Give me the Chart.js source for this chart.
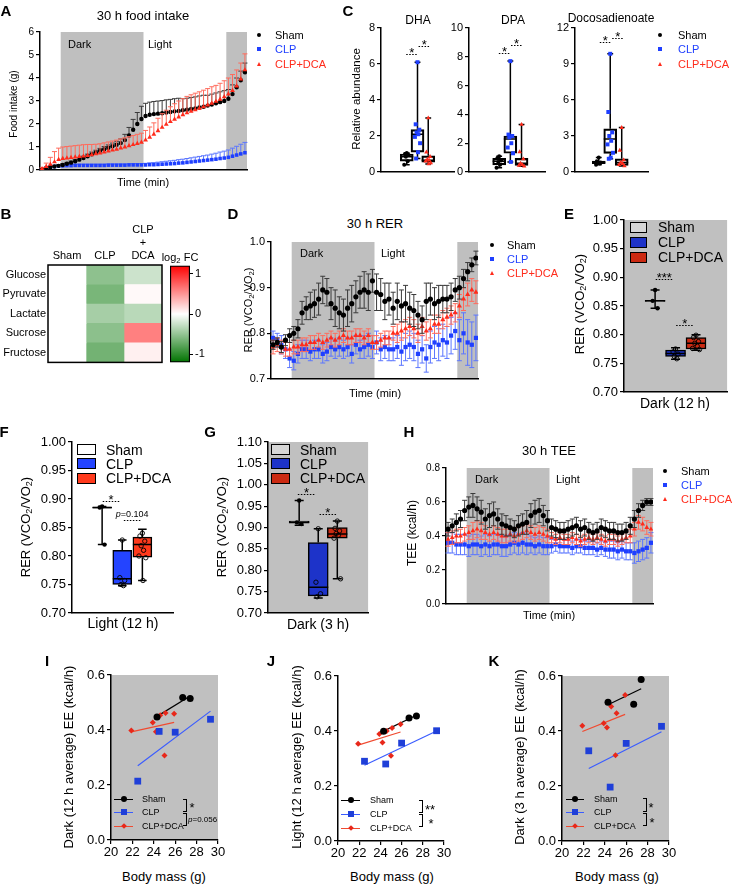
<!DOCTYPE html>
<html>
<head>
<meta charset="utf-8">
<script src="https://cdn.jsdelivr.net/npm/chart.js@4.4.0/dist/chart.umd.min.js"></script>
<style>
  html, body { margin: 0; padding: 0; background: #fff; }
  body { position: relative; width: 734px; height: 885px; overflow: hidden; font-family: 'Liberation Sans', Arial, sans-serif; color: #000; }
  .cv { position: absolute; }
  .t { position: absolute; white-space: nowrap; line-height: 1; }
  .t sub { font-size: 0.7em; vertical-align: -0.3em; line-height: 0; }
  .mk { position: absolute; box-sizing: border-box; }
</style>
</head>
<body>
<script>
const groups = ['Sham', 'CLP', 'CLP+DCA'];
const groupColors = ['#000000', '#1f3fff', '#ff2b1b'];
const semColors = ['#3a3a3a', '#5b76ff', '#ff6b5c'];
const groupMarkers = ['circle', 'rect', 'triangle'];

// 30 h recordings, one mean every 36 min
const timeMin = Array.from({ length: 50 }, (_, i) => 18 + 36 * i);
const darkPeriods = [[180, 900], [1620, 1800]];

// A: cumulative food intake (g), mean and SEM
const foodSham = [0.03,0.08,0.12,0.15,0.18,0.22,0.27,0.32,0.38,0.45,0.52,0.60,0.68,0.76,0.84,0.90,0.97,1.03,1.10,1.17,1.30,1.50,1.75,2.00,2.22,2.35,2.40,2.43,2.45,2.47,2.50,2.52,2.55,2.57,2.60,2.62,2.65,2.68,2.72,2.75,2.80,2.85,2.90,2.95,3.00,3.10,3.30,3.60,3.90,4.25];
const foodShamSem = [0.02,0.03,0.04,0.05,0.05,0.06,0.06,0.07,0.07,0.08,0.08,0.09,0.10,0.10,0.10,0.12,0.12,0.14,0.15,0.18,0.25,0.35,0.45,0.50,0.55,0.55,0.55,0.55,0.55,0.55,0.55,0.55,0.55,0.55,0.50,0.50,0.50,0.50,0.50,0.50,0.45,0.45,0.45,0.45,0.45,0.40,0.40,0.40,0.40,0.40];
const foodClp = [0.03,0.08,0.12,0.15,0.17,0.18,0.19,0.19,0.20,0.20,0.20,0.20,0.20,0.20,0.20,0.20,0.21,0.21,0.21,0.21,0.21,0.22,0.22,0.22,0.22,0.22,0.23,0.23,0.24,0.25,0.26,0.27,0.28,0.30,0.31,0.33,0.35,0.37,0.39,0.41,0.43,0.45,0.47,0.50,0.52,0.55,0.60,0.65,0.70,0.75];
const foodClpSem = [0.02,0.04,0.05,0.05,0.05,0.05,0.05,0.05,0.05,0.05,0.05,0.05,0.05,0.05,0.05,0.05,0.05,0.05,0.05,0.05,0.05,0.05,0.06,0.06,0.06,0.07,0.08,0.09,0.10,0.11,0.12,0.13,0.14,0.15,0.16,0.17,0.18,0.19,0.20,0.21,0.22,0.24,0.26,0.28,0.30,0.32,0.35,0.38,0.42,0.45];
const foodDca = [0.05,0.15,0.25,0.35,0.45,0.50,0.52,0.54,0.56,0.58,0.60,0.63,0.66,0.70,0.74,0.78,0.82,0.86,0.90,0.95,1.00,1.05,1.10,1.15,1.20,1.30,1.42,1.55,1.70,1.85,1.98,2.10,2.20,2.30,2.40,2.48,2.55,2.62,2.68,2.75,2.82,2.90,2.98,3.07,3.18,3.30,3.45,3.65,3.95,4.35];
const foodDcaSem = [0.05,0.15,0.30,0.45,0.50,0.50,0.50,0.50,0.50,0.50,0.50,0.48,0.45,0.42,0.40,0.40,0.40,0.40,0.40,0.40,0.40,0.40,0.40,0.40,0.40,0.42,0.45,0.50,0.55,0.60,0.62,0.65,0.68,0.70,0.70,0.72,0.72,0.72,0.72,0.72,0.72,0.72,0.70,0.70,0.70,0.70,0.70,0.70,0.70,0.70];

// D: respiratory exchange ratio
const rerSham = [0.775,0.780,0.770,0.785,0.795,0.800,0.810,0.845,0.855,0.860,0.865,0.875,0.895,0.890,0.865,0.855,0.845,0.840,0.855,0.865,0.880,0.890,0.895,0.890,0.915,0.890,0.885,0.870,0.875,0.855,0.870,0.860,0.865,0.855,0.850,0.840,0.830,0.870,0.875,0.865,0.870,0.875,0.875,0.880,0.895,0.900,0.920,0.935,0.950,0.965];
const rerShamSem = [0.010,0.010,0.012,0.012,0.015,0.015,0.020,0.025,0.025,0.030,0.030,0.035,0.030,0.030,0.035,0.040,0.035,0.035,0.040,0.040,0.035,0.035,0.040,0.040,0.025,0.040,0.035,0.040,0.035,0.035,0.040,0.035,0.040,0.035,0.035,0.030,0.030,0.040,0.035,0.035,0.035,0.030,0.030,0.030,0.025,0.025,0.020,0.020,0.015,0.015];
const rerClp = [0.790,0.785,0.775,0.765,0.745,0.740,0.755,0.765,0.765,0.760,0.765,0.765,0.755,0.760,0.770,0.765,0.770,0.765,0.770,0.755,0.775,0.765,0.770,0.775,0.770,0.780,0.765,0.770,0.765,0.765,0.770,0.760,0.770,0.775,0.770,0.755,0.765,0.745,0.770,0.780,0.775,0.785,0.780,0.795,0.805,0.785,0.800,0.780,0.775,0.790];
const rerClpSem = [0.015,0.015,0.020,0.020,0.020,0.020,0.020,0.020,0.020,0.020,0.020,0.020,0.020,0.020,0.020,0.020,0.020,0.020,0.020,0.020,0.020,0.020,0.025,0.025,0.025,0.025,0.025,0.025,0.025,0.025,0.025,0.030,0.030,0.030,0.030,0.030,0.030,0.030,0.035,0.035,0.035,0.035,0.035,0.040,0.040,0.045,0.045,0.050,0.050,0.050];
const rerDca = [0.770,0.775,0.770,0.765,0.765,0.770,0.770,0.775,0.775,0.780,0.780,0.785,0.780,0.785,0.790,0.785,0.790,0.795,0.790,0.790,0.795,0.795,0.790,0.795,0.780,0.780,0.785,0.790,0.790,0.800,0.800,0.805,0.810,0.815,0.810,0.800,0.815,0.805,0.810,0.820,0.820,0.830,0.835,0.840,0.845,0.860,0.875,0.885,0.895,0.890];
const rerDcaSem = [0.015,0.015,0.015,0.015,0.015,0.015,0.015,0.015,0.015,0.015,0.015,0.015,0.015,0.015,0.015,0.015,0.015,0.015,0.015,0.015,0.015,0.015,0.015,0.015,0.015,0.015,0.015,0.015,0.015,0.015,0.020,0.020,0.020,0.020,0.020,0.020,0.020,0.020,0.020,0.020,0.020,0.020,0.020,0.020,0.020,0.025,0.025,0.025,0.025,0.025];

// H: total energy expenditure (kcal/h)
const teeSham = [0.44,0.46,0.48,0.50,0.55,0.57,0.58,0.56,0.54,0.50,0.52,0.53,0.50,0.47,0.46,0.45,0.44,0.46,0.47,0.48,0.52,0.54,0.55,0.52,0.49,0.45,0.44,0.43,0.43,0.44,0.45,0.46,0.44,0.45,0.43,0.42,0.43,0.45,0.44,0.43,0.43,0.42,0.42,0.43,0.46,0.50,0.55,0.58,0.60,0.60];
const teeShamSem = [0.04,0.04,0.05,0.05,0.06,0.06,0.07,0.07,0.07,0.06,0.07,0.07,0.06,0.06,0.06,0.05,0.05,0.06,0.06,0.07,0.07,0.07,0.07,0.06,0.06,0.05,0.05,0.05,0.05,0.05,0.05,0.05,0.05,0.05,0.05,0.05,0.05,0.05,0.05,0.05,0.05,0.05,0.05,0.05,0.05,0.05,0.04,0.03,0.02,0.02];
const teeClp = [0.36,0.36,0.35,0.35,0.35,0.34,0.35,0.35,0.34,0.35,0.34,0.35,0.35,0.34,0.34,0.35,0.36,0.35,0.36,0.35,0.35,0.34,0.35,0.34,0.34,0.34,0.35,0.34,0.34,0.34,0.33,0.34,0.34,0.33,0.33,0.33,0.32,0.33,0.32,0.32,0.32,0.31,0.32,0.31,0.31,0.30,0.31,0.32,0.33,0.36];
const teeClpSem = [0.06,0.06,0.06,0.06,0.06,0.06,0.06,0.06,0.06,0.06,0.06,0.06,0.06,0.06,0.06,0.06,0.06,0.06,0.06,0.06,0.05,0.05,0.05,0.05,0.05,0.04,0.04,0.04,0.04,0.04,0.04,0.04,0.04,0.04,0.04,0.04,0.04,0.04,0.04,0.05,0.05,0.05,0.05,0.05,0.05,0.06,0.06,0.06,0.06,0.06];
const teeDca = [0.38,0.39,0.40,0.40,0.41,0.42,0.43,0.44,0.43,0.42,0.41,0.42,0.41,0.40,0.40,0.41,0.40,0.41,0.42,0.43,0.42,0.41,0.42,0.41,0.40,0.39,0.38,0.39,0.38,0.38,0.39,0.38,0.37,0.38,0.39,0.38,0.39,0.38,0.37,0.38,0.38,0.37,0.38,0.39,0.40,0.44,0.48,0.47,0.45,0.44];
const teeDcaSem = [0.04,0.04,0.04,0.04,0.04,0.04,0.05,0.05,0.05,0.04,0.04,0.04,0.04,0.04,0.04,0.04,0.04,0.04,0.04,0.04,0.04,0.04,0.04,0.04,0.04,0.03,0.03,0.03,0.03,0.03,0.03,0.03,0.03,0.03,0.03,0.03,0.03,0.03,0.03,0.03,0.03,0.03,0.03,0.03,0.04,0.04,0.04,0.04,0.04,0.04];

// B: log2 fold change vs sham
const metabolites = ['Glucose', 'Pyruvate', 'Lactate', 'Sucrose', 'Fructose'];
const heatColumns = ['Sham', 'CLP', ['CLP', '+', 'DCA']];
const fcSham = [0, 0, 0, 0, 0];
const fcClp = [-0.53, -0.63, -0.42, -0.54, -0.66];
const fcDca = [-0.24, 0.03, -0.33, 0.60, 0.07];
const fcMin = -1.2;
const fcMax = 1.2;
const fcTicks = [-1, 0, 1];

// C: relative abundance, box stats [min, q1, median, q3, max] and points
const dhaStats = [[0.40, 0.60, 0.85, 1.00, 1.05], [0.75, 1.10, 2.10, 2.35, 6.10], [0.45, 0.55, 0.65, 0.90, 3.00]];
const dhaPoints = [[1.05, 1.00, 0.95, 0.85, 0.60, 0.40], [6.10, 2.65, 2.35, 2.20, 2.10, 1.95, 1.60, 1.10, 0.75], [3.00, 1.10, 0.85, 0.70, 0.65, 0.60, 0.50, 0.45]];
const dpaStats = [[0.30, 0.50, 0.75, 0.95, 1.10], [0.70, 1.30, 2.30, 2.50, 7.70], [0.40, 0.45, 0.60, 0.95, 3.30]];
const dpaPoints = [[1.10, 0.95, 0.80, 0.70, 0.50, 0.30], [7.70, 2.60, 2.50, 2.40, 2.00, 1.70, 1.30, 0.70], [3.30, 1.40, 0.90, 0.60, 0.50, 0.45, 0.40]];
const docoStats = [[0.60, 0.70, 0.80, 0.90, 1.20], [1.10, 1.55, 2.75, 3.60, 9.85], [0.50, 0.55, 0.80, 1.10, 3.70]];
const docoPoints = [[1.20, 0.90, 0.80, 0.75, 0.70, 0.60], [9.85, 5.00, 3.30, 3.00, 2.60, 2.30, 1.60, 1.20, 1.10], [3.70, 1.80, 1.00, 0.80, 0.70, 0.60, 0.50]];

// E, F, G: RER box stats and points
const rerDark12Stats = [[0.846, 0.858, 0.859, 0.860, 0.878], [0.757, 0.762, 0.767, 0.773, 0.777], [0.773, 0.775, 0.785, 0.795, 0.800]];
const rerDark12Points = [[0.878, 0.859, 0.846], [0.775, 0.770, 0.766, 0.762, 0.758], [0.799, 0.795, 0.788, 0.785, 0.780, 0.776, 0.774]];
const rerLight12Stats = [[0.820, 0.884, 0.885, 0.886, 0.887], [0.748, 0.750, 0.760, 0.810, 0.828], [0.757, 0.798, 0.820, 0.833, 0.847]];
const rerLight12Points = [[0.887, 0.885, 0.820], [0.828, 0.762, 0.757, 0.750, 0.748], [0.840, 0.835, 0.826, 0.818, 0.810, 0.800, 0.797, 0.757]];
const rerDark3Stats = [[0.905, 0.910, 0.912, 0.915, 0.963], [0.735, 0.740, 0.760, 0.865, 0.897], [0.780, 0.875, 0.885, 0.900, 0.915]];
const rerDark3Points = [[0.963, 0.912, 0.908], [0.897, 0.772, 0.745, 0.738], [0.915, 0.898, 0.892, 0.886, 0.882, 0.875, 0.780]];

// I, J, K: body mass (g) and energy expenditure (kcal/h)
const massSham = [24.3, 26.7, 27.4];
const massClp = [22.5, 24.5, 26.0, 29.3];
const massDca = [21.9, 23.9, 24.2, 24.6, 25.0, 25.1, 25.9];
const eeDark12 = [[0.447, 0.518, 0.515], [0.214, 0.395, 0.392, 0.439], [0.398, 0.427, 0.394, 0.454, 0.307, 0.462, 0.459]];
const eeLight12 = [[0.399, 0.447, 0.455], [0.290, 0.280, 0.356, 0.401], [0.354, 0.389, 0.358, 0.400, 0.310, 0.411, 0.425]];
const eeDark3 = [[0.505, 0.497, 0.587], [0.328, 0.196, 0.355, 0.417], [0.419, 0.428, 0.413, 0.489, 0.312, 0.465, 0.531]];

Chart.defaults.font.family = "'Liberation Sans', Arial, Helvetica, sans-serif";
Chart.defaults.color = '#000';
Chart.defaults.animation = false;
Chart.defaults.maintainAspectRatio = false;
Chart.defaults.events = [];
Chart.defaults.plugins.legend.display = false;
Chart.defaults.plugins.tooltip.enabled = false;

const FONT = "'Liberation Sans', Arial, sans-serif";
const jitter = [0, -0.6, 0.6, -0.3, 0.3, -0.85, 0.85, 0.15, -0.45, 0.45];

// error bars read from dataset.sem
Chart.register({
  id: 'errorBars',
  beforeDatasetDraw(chart, args) {
    const ds = chart.data.datasets[args.index];
    if (!ds.sem) return;
    const { ctx, scales: { x, y } } = chart;
    const cap = ds.capW || 2.5;
    ctx.save();
    ctx.strokeStyle = ds.semColor;
    ctx.lineWidth = 1;
    ds.data.forEach((p, i) => {
      const px = x.getPixelForValue(p.x);
      const top = y.getPixelForValue(p.y + ds.sem[i]);
      const bot = ds.semUp ? y.getPixelForValue(p.y) : y.getPixelForValue(p.y - ds.sem[i]);
      ctx.beginPath();
      ctx.moveTo(px, top); ctx.lineTo(px, bot);
      ctx.moveTo(px - cap, top); ctx.lineTo(px + cap, top);
      if (!ds.semUp) { ctx.moveTo(px - cap, bot); ctx.lineTo(px + cap, bot); }
      ctx.stroke();
    });
    ctx.restore();
  },
});

// whiskers and medians for box datasets
Chart.register({
  id: 'whiskers',
  afterDatasetDraw(chart, args) {
    const ds = chart.data.datasets[args.index];
    if (!ds.stats) return;
    const { ctx, scales: { x, y } } = chart;
    const half = ds.barThickness / 2;
    ctx.save();
    ctx.strokeStyle = '#000';
    ctx.lineWidth = 1.5;
    ds.stats.forEach((s, i) => {
      const px = x.getPixelForValue(ds.data[i].x);
      const [lo, q1, med, q3, hi] = s.map((v) => y.getPixelForValue(v));
      ctx.beginPath();
      ctx.moveTo(px, hi); ctx.lineTo(px, q3);
      ctx.moveTo(px, q1); ctx.lineTo(px, lo);
      ctx.moveTo(px - half * 0.45, hi); ctx.lineTo(px + half * 0.45, hi);
      ctx.moveTo(px - half * 0.45, lo); ctx.lineTo(px + half * 0.45, lo);
      ctx.moveTo(px - half, med); ctx.lineTo(px + half, med);
      ctx.stroke();
    });
    ctx.restore();
  },
});

function shade(o) {
  return {
    id: 'shade',
    beforeDraw(chart) {
      const { ctx, chartArea: a, scales: { x } } = chart;
      ctx.save();
      if (o.fill) { ctx.fillStyle = o.fill; ctx.fillRect(a.left, a.top, a.width, a.height); }
      (o.ranges || []).forEach(([s, e]) => {
        const x0 = x.getPixelForValue(s);
        const x1 = x.getPixelForValue(e);
        ctx.fillStyle = o.color;
        ctx.fillRect(x0, a.top, x1 - x0, a.height);
      });
      ctx.restore();
    },
  };
}

function sig(marks) {
  return {
    id: 'sig',
    afterDatasetsDraw(chart) {
      const { ctx, scales: { x, y } } = chart;
      ctx.save();
      (marks || []).forEach((mk) => {
        const x1 = x.getPixelForValue(mk.from);
        const x2 = x.getPixelForValue(mk.to);
        const py = Math.round(y.getPixelForValue(mk.y)) + 0.5;
        const size = mk.size || 13;
        ctx.strokeStyle = '#000';
        ctx.lineWidth = 1;
        ctx.setLineDash([1.5, 1.5]);
        ctx.beginPath(); ctx.moveTo(x1, py); ctx.lineTo(x2, py); ctx.stroke();
        ctx.setLineDash([]);
        ctx.fillStyle = '#000';
        ctx.textBaseline = 'alphabetic';
        const cx = (x1 + x2) / 2;
        if (mk.text.startsWith('p=')) {
          ctx.font = `italic ${size}px ${FONT}`;
          const wp = ctx.measureText('p').width;
          ctx.font = `${size}px ${FONT}`;
          const rest = mk.text.slice(1);
          const wr = ctx.measureText(rest).width;
          const sx = cx - (wp + wr) / 2;
          ctx.textAlign = 'left';
          ctx.font = `italic ${size}px ${FONT}`;
          ctx.fillText('p', sx, py - 4);
          ctx.font = `${size}px ${FONT}`;
          ctx.fillText(rest, sx + wp, py - 4);
        } else {
          ctx.font = `${size}px ${FONT}`;
          ctx.textAlign = 'center';
          ctx.fillText(mk.text, cx, py + 2);
        }
      });
      ctx.restore();
    },
  };
}

const frame = {
  id: 'frame',
  afterDatasetsDraw(chart) {
    const { ctx, chartArea: a } = chart;
    ctx.save();
    ctx.strokeStyle = '#000';
    ctx.lineWidth = 1.5;
    ctx.strokeRect(a.left, a.top, a.width, a.height);
    ctx.restore();
  },
};

// canvas box around a plot area [l, t, r, b]; m = [top, right, bottom, left] margins
function place(l, t, r, b, m) {
  const wrap = document.createElement('div');
  wrap.className = 'cv';
  Object.assign(wrap.style, {
    left: (l - m[3]) + 'px', top: (t - m[0]) + 'px',
    width: (r - l + m[1] + m[3]) + 'px', height: (b - t + m[0] + m[2]) + 'px',
  });
  const canvas = document.createElement('canvas');
  wrap.appendChild(canvas);
  document.body.appendChild(wrap);
  return canvas;
}

const pad = (m) => ({ padding: { top: m[0], right: m[1], bottom: 0, left: 0 } });

function yAxis(m, min, max, step, size, digits) {
  return {
    type: 'linear', min, max,
    afterFit: (s) => { s.width = m[3]; },
    grid: { drawOnChartArea: false, tickLength: 4, color: '#000', lineWidth: 1.2 },
    border: { color: '#000', width: 1.5 },
    ticks: { stepSize: step, font: { size }, padding: 2, color: '#000', callback: (v) => Number(v).toFixed(digits) },
  };
}

function flatX(m, min, max) {
  return {
    type: 'linear', min, max,
    afterFit: (s) => { s.height = m[2]; },
    grid: { display: false },
    border: { color: '#000', width: 1.5 },
    ticks: { display: false },
  };
}

function timeChart(canvas, m, o) {
  new Chart(canvas, {
    type: 'scatter',
    data: {
      datasets: o.series.map(([vals, sem, g]) => ({
        label: groups[g],
        data: timeMin.map((t, i) => ({ x: t, y: vals[i] })),
        sem, semUp: o.upOnly, semColor: semColors[g], capW: o.capW,
        pointStyle: groupMarkers[g], pointRadius: o.radius[g],
        pointBackgroundColor: groupColors[g], pointBorderColor: groupColors[g], pointBorderWidth: 0,
      })),
    },
    options: {
      layout: pad(m),
      scales: { x: flatX(m, 0, 1800), y: yAxis(m, o.yMin, o.yMax, o.step, o.tickSize, o.digits) },
    },
    plugins: [shade({ ranges: darkPeriods, color: '#bfbfbf' })],
  });
}

function boxChart(canvas, m, o) {
  const datasets = o.points.map((vals, g) => ({
    label: groups[g],
    order: 1,
    data: vals.map((v, j) => ({ x: g + 1 + jitter[j % jitter.length] * o.spread, y: v })),
    pointStyle: o.dots[g].style, pointRadius: o.dots[g].r,
    pointBackgroundColor: o.dots[g].fill, pointBorderColor: o.dots[g].line, pointBorderWidth: o.dots[g].lw,
  }));
  datasets.push({
    type: 'bar', order: 2, stats: o.stats,
    data: o.stats.map((s, g) => ({ x: g + 1, y: [s[1], s[3]] })),
    backgroundColor: o.fills, borderColor: '#000', borderWidth: 1.5, borderSkipped: false,
    barThickness: o.barW, grouped: false,
  });
  new Chart(canvas, {
    type: 'scatter',
    data: { datasets },
    options: {
      layout: pad(m),
      scales: { x: flatX(m, o.xMin, o.xMax), y: yAxis(m, o.yMin, o.yMax, o.step, o.tickSize, o.digits) },
    },
    plugins: [shade({ fill: o.bg }), sig(o.marks)],
  });
}

function fitLine(xs, ys) {
  const n = xs.length;
  const mx = xs.reduce((a, b) => a + b, 0) / n;
  const my = ys.reduce((a, b) => a + b, 0) / n;
  let sxy = 0, sxx = 0;
  xs.forEach((x, i) => { sxy += (x - mx) * (ys[i] - my); sxx += (x - mx) * (x - mx); });
  const k = sxy / sxx;
  const x0 = Math.min(...xs), x1 = Math.max(...xs);
  return [{ x: x0, y: my + k * (x0 - mx) }, { x: x1, y: my + k * (x1 - mx) }];
}

const eeColors = ['#000000', '#1f3fd8', '#e8281a'];
const fitColors = ['#000000', '#3a5cff', '#f04a30'];
const eeMarkers = [{ style: 'circle', r: 3.5 }, { style: 'rect', r: 4.8 }, { style: 'rectRot', r: 3 }];

function eeChart(canvas, m, ys, bg) {
  const masses = [massSham, massClp, massDca];
  const dots = masses.map((xs, g) => ({
    label: groups[g], order: 1,
    data: xs.map((x, i) => ({ x, y: ys[g][i] })),
    pointStyle: eeMarkers[g].style, pointRadius: eeMarkers[g].r,
    pointBackgroundColor: eeColors[g], pointBorderColor: eeColors[g], pointBorderWidth: 0,
  }));
  const lines = masses.map((xs, g) => ({
    order: 2, showLine: true, data: fitLine(xs, ys[g]),
    borderColor: fitColors[g], borderWidth: 1.2, pointRadius: 0,
  }));
  new Chart(canvas, {
    type: 'scatter',
    data: { datasets: dots.concat(lines) },
    options: {
      layout: pad(m),
      scales: {
        x: {
          type: 'linear', min: 20, max: 30,
          afterFit: (s) => { s.height = m[2]; },
          grid: { drawOnChartArea: false, tickLength: 4, color: '#000', lineWidth: 1.2 },
          border: { color: '#000', width: 1.5 },
          ticks: { stepSize: 2, font: { size: 13 }, padding: 1, color: '#000' },
        },
        y: yAxis(m, 0, 0.6, 0.2, 13, 1),
      },
    },
    plugins: [shade({ fill: bg })],
  });
}

function fcColor(v) {
  const t = Math.min(Math.abs(v) / fcMax, 1);
  const w = Math.round(255 * (1 - t));
  if (v >= 0) return `rgb(255,${w},${w})`;
  return `rgb(${w},${Math.round(255 - 140 * t)},${w})`;
}

function fcGradient(chart) {
  const { ctx, chartArea, scales } = chart;
  if (!chartArea) return '#fff';
  const g = ctx.createLinearGradient(0, scales.y.getPixelForValue(fcMin), 0, scales.y.getPixelForValue(fcMax));
  g.addColorStop(0, fcColor(fcMin));
  g.addColorStop(0.5, fcColor(0));
  g.addColorStop(1, fcColor(fcMax));
  return g;
}

// --- html text helpers
function txt(html, x, y, o = {}) {
  const d = document.createElement('div');
  d.className = 't';
  d.innerHTML = html;
  d.style.left = x + 'px';
  d.style.top = y + 'px';
  d.style.fontSize = (o.size || 11) + 'px';
  if (o.color) d.style.color = o.color;
  if (o.bold) d.style.fontWeight = 'bold';
  const ax = o.align === 'left' ? '0' : '-50%';
  d.style.transform = `translate(${ax}, -50%)` + (o.rot ? ' rotate(-90deg)' : '');
  document.body.appendChild(d);
}

function mark(style, x, y, size, color) {
  const d = document.createElement('div');
  d.className = 'mk';
  const s = d.style;
  s.left = (x - size / 2) + 'px';
  s.top = (y - size / 2) + 'px';
  if (style === 'triangle') {
    s.width = '0'; s.height = '0';
    s.borderLeft = `${size / 2}px solid transparent`;
    s.borderRight = `${size / 2}px solid transparent`;
    s.borderBottom = `${size}px solid ${color}`;
  } else {
    s.width = size + 'px'; s.height = size + 'px';
    s.background = color;
    if (style === 'circle') s.borderRadius = '50%';
    if (style === 'diamond') s.transform = 'rotate(45deg)';
  }
  document.body.appendChild(d);
}

function hline(x1, x2, y, color) {
  const d = document.createElement('div');
  d.className = 'mk';
  Object.assign(d.style, { left: x1 + 'px', top: (y - 0.5) + 'px', width: (x2 - x1) + 'px', height: '1px', background: color });
  document.body.appendChild(d);
}

function bracket(x, y1, y2) {
  const d = document.createElement('div');
  d.className = 'mk';
  Object.assign(d.style, { left: (x - 3) + 'px', top: y1 + 'px', width: '4px', height: (y2 - y1) + 'px', border: '1px solid #000', borderLeft: 'none' });
  document.body.appendChild(d);
}

function legendBox(x, y, w, h, fill) {
  const d = document.createElement('div');
  d.className = 'mk';
  Object.assign(d.style, { left: x + 'px', top: (y - h / 2) + 'px', width: w + 'px', height: h + 'px', border: '1.5px solid #000', background: fill });
  document.body.appendChild(d);
}

const rerLabel = 'RER (VCO<sub>2</sub>/VO<sub>2</sub>)';

// ---------- A: food intake
timeChart(place(40, 32, 247, 170, [10, 4, 10, 30]), [10, 4, 10, 30], {
  series: [[foodDca, foodDcaSem, 2], [foodSham, foodShamSem, 0], [foodClp, foodClpSem, 1]],
  upOnly: true, capW: 2.5, radius: [2.2, 2.5, 2.8],
  yMin: 0, yMax: 6, step: 1, tickSize: 10, digits: 0,
});
txt('30 h food intake', 143, 15, { size: 13 });
txt('Food intake (g)', 14, 104, { size: 10, rot: true });
txt('Time (min)', 143, 182);
txt('Dark', 68, 44, { align: 'left' });
txt('Light', 148, 44, { align: 'left' });

// ---------- C: box plots
const cDots = [
  { style: 'circle', r: 2, fill: '#000', line: '#000', lw: 0 },
  { style: 'rect', r: 2.8, fill: groupColors[1], line: groupColors[1], lw: 0 },
  { style: 'triangle', r: 2.6, fill: groupColors[2], line: groupColors[2], lw: 0 },
];
const clear = ['rgba(0,0,0,0)', 'rgba(0,0,0,0)', 'rgba(0,0,0,0)'];
const mC = [10, 4, 10, 24];
boxChart(place(381, 28, 454, 172, mC), mC, {
  stats: dhaStats, points: dhaPoints, dots: cDots, fills: clear, barW: 13, spread: 0.28,
  xMin: 0.3, xMax: 3.7, yMin: 0, yMax: 8, step: 2, tickSize: 11, digits: 0,
  marks: [{ from: 0.95, to: 2.0, y: 6.56, text: '*' }, { from: 2.1, to: 3.15, y: 7.02, text: '*' }],
});
boxChart(place(469, 28, 545, 172, mC), mC, {
  stats: dpaStats, points: dpaPoints, dots: cDots, fills: clear, barW: 13, spread: 0.28,
  xMin: 0, xMax: 3.4, yMin: 0, yMax: 10, step: 2, tickSize: 11, digits: 0,
  marks: [{ from: 0.97, to: 1.97, y: 8.26, text: '*' }, { from: 2.06, to: 3.03, y: 8.84, text: '*' }],
});
boxChart(place(575, 28, 648, 172, mC), mC, {
  stats: docoStats, points: docoPoints, dots: cDots, fills: clear, barW: 13, spread: 0.28,
  xMin: 0.52, xMax: 3.7, yMin: 0, yMax: 12, step: 3, tickSize: 11, digits: 0,
  marks: [{ from: 1.09, to: 2.04, y: 10.8, text: '*' }, { from: 2.17, to: 3.16, y: 11.2, text: '*' }],
});
txt('DHA', 418, 20, { size: 12 });
txt('DPA', 513, 20, { size: 12 });
txt('Docosadienoate', 611, 18, { size: 12 });
txt('Relative abundance', 357, 99, { size: 11.5, rot: true });

// legends for A and C
[[259, 275], [660, 678]].forEach(([mx, tx]) => {
  [35, 49, 64].forEach((y, g) => {
    mark(groupMarkers[g], mx, y, g === 0 ? 4 : 4.5, groupColors[g]);
    txt(groups[g], tx, y, { align: 'left', color: groupColors[g] });
  });
});

// ---------- B: heatmap and colour bar
new Chart(place(48, 265, 162, 363, [50, 2, 8, 48]), {
  type: 'bar',
  data: {
    labels: metabolites,
    datasets: [fcSham, fcClp, fcDca].map((vals, c) => ({
      data: vals.map(() => [c, c + 1]),
      backgroundColor: vals.map(fcColor),
      borderWidth: 0, grouped: false, barPercentage: 1, categoryPercentage: 1,
    })),
  },
  options: {
    indexAxis: 'y',
    layout: { padding: { top: 0, right: 2, bottom: 8, left: 0 } },
    scales: {
      x: {
        type: 'linear', position: 'top', min: 0, max: 3,
        afterBuildTicks: (s) => { s.ticks = [0.5, 1.5, 2.5].map((value) => ({ value })); },
        afterFit: (s) => { s.height = 50; },
        grid: { display: false, drawTicks: false }, border: { display: false },
        ticks: { font: { size: 11 }, padding: 2, color: '#000', callback: (v, i) => heatColumns[i] },
      },
      y: {
        type: 'category',
        afterFit: (s) => { s.width = 48; },
        grid: { display: false, drawTicks: false }, border: { display: false },
        ticks: { font: { size: 11 }, padding: 2, color: '#000' },
      },
    },
  },
  plugins: [frame],
});
new Chart(place(170, 265, 190, 363, [8, 20, 8, 0]), {
  type: 'bar',
  data: {
    labels: ['log2 FC'],
    datasets: [{
      data: [[fcMin, fcMax]], backgroundColor: (c) => fcGradient(c.chart),
      borderColor: '#000', borderWidth: 1.5, borderSkipped: false, barPercentage: 1, categoryPercentage: 1,
    }],
  },
  options: {
    layout: { padding: { top: 8, right: 0, bottom: 8, left: 0 } },
    scales: {
      x: { display: false },
      y: {
        position: 'right', min: fcMin, max: fcMax,
        afterBuildTicks: (s) => { s.ticks = fcTicks.map((value) => ({ value })); },
        afterFit: (s) => { s.width = 20; },
        grid: { drawOnChartArea: false, tickLength: 3, color: '#000' },
        border: { display: false },
        ticks: { font: { size: 11 }, padding: 2, color: '#000', callback: (v) => String(v) },
      },
    },
  },
});
txt('log<sub>2</sub> FC', 180, 257);

// ---------- D: RER time course
timeChart(place(271, 242, 478, 379, [10, 4, 10, 34]), [10, 4, 10, 34], {
  series: [[rerSham, rerShamSem, 0], [rerDca, rerDcaSem, 2], [rerClp, rerClpSem, 1]],
  upOnly: false, capW: 2.5, radius: [2.6, 3, 3],
  yMin: 0.7, yMax: 1.0, step: 0.1, tickSize: 11, digits: 1,
});
txt('30 h RER', 375, 223, { size: 13 });
txt(rerLabel, 248, 310, { size: 11, rot: true });
txt('Time (min)', 375, 393);
txt('Dark', 300, 253, { align: 'left' });
txt('Light', 381, 253, { align: 'left' });
[245, 259, 273].forEach((y, g) => {
  mark(groupMarkers[g], 492, y, 4.5, groupColors[g]);
  txt(groups[g], 507, y, { align: 'left', color: groupColors[g] });
});

// ---------- E, F, G: RER box plots
const rerDots = [
  { style: 'circle', r: 2.2, fill: '#000', line: '#000', lw: 0 },
  { style: 'circle', r: 2.2, fill: 'rgba(0,0,0,0)', line: '#000', lw: 0.9 },
  { style: 'circle', r: 2.2, fill: 'rgba(0,0,0,0)', line: '#000', lw: 0.9 },
];
const darkFills = ['#d6d6d6', '#1d33c9', '#cb2a12'];
const lightFills = ['#ffffff', '#2444ff', '#ff3a1c'];
const mR = [10, 4, 10, 45];
boxChart(place(624, 220, 728, 392, mR), mR, {
  stats: rerDark12Stats, points: rerDark12Points, dots: rerDots, fills: darkFills, barW: 20, spread: 0.2,
  xMin: 0.32, xMax: 3.68, yMin: 0.7, yMax: 1.0, step: 0.05, tickSize: 13, digits: 2, bg: '#c0c0c0',
  marks: [{ from: 1.03, to: 1.87, y: 0.897, text: '***' }, { from: 2.03, to: 2.87, y: 0.817, text: '*' }],
});
boxChart(place(72, 442, 174, 613, mR), mR, {
  stats: rerLight12Stats, points: rerLight12Points, dots: rerDots, fills: lightFills, barW: 19, spread: 0.2,
  xMin: 0.34, xMax: 3.69, yMin: 0.7, yMax: 1.0, step: 0.05, tickSize: 13, digits: 2,
  marks: [{ from: 1.03, to: 1.85, y: 0.897, text: '*' }, { from: 2.08, to: 2.9, y: 0.863, text: 'p=0.104', size: 9 }],
});
boxChart(place(268, 442, 369, 613, mR), mR, {
  stats: rerDark3Stats, points: rerDark3Points, dots: rerDots, fills: darkFills, barW: 20, spread: 0.2,
  xMin: 0.24, xMax: 3.74, yMin: 0.7, yMax: 1.1, step: 0.05, tickSize: 13, digits: 2, bg: '#c0c0c0',
  marks: [{ from: 0.93, to: 1.83, y: 0.978, text: '*' }, { from: 2.07, to: 2.94, y: 0.932, text: '*' }],
});
txt(rerLabel, 579, 304, { size: 13, rot: true });
txt(rerLabel, 25, 527, { size: 13, rot: true });
txt(rerLabel, 221, 527, { size: 13, rot: true });
txt('Dark (12 h)', 675, 403, { size: 14 });
txt('Light (12 h)', 123, 623, { size: 14 });
txt('Dark (3 h)', 318, 624, { size: 14 });
[[630, 658, [227, 242, 257], darkFills, 17], [77, 106, [449.5, 463.5, 478], lightFills, 19], [271, 300, [449.5, 463.5, 478], darkFills, 19]]
  .forEach(([bx, tx, ys, fills, w]) => {
    ys.forEach((y, g) => {
      legendBox(bx, y, w, 11, fills[g]);
      txt(groups[g], tx, y, { align: 'left', size: 14 });
    });
  });

// ---------- H: TEE time course
timeChart(place(446, 468, 653, 604, [10, 4, 10, 34]), [10, 4, 10, 34], {
  series: [[teeSham, teeShamSem, 0], [teeDca, teeDcaSem, 2], [teeClp, teeClpSem, 1]],
  upOnly: false, capW: 2.5, radius: [2.6, 3, 2.8],
  yMin: 0, yMax: 0.8, step: 0.2, tickSize: 10, digits: 1,
});
txt('30 h TEE', 549, 450, { size: 13 });
txt('TEE (kcal/h)', 412, 533, { size: 12, rot: true });
txt('Time (min)', 549, 615);
txt('Dark', 475, 479, { align: 'left' });
txt('Light', 556, 479, { align: 'left' });
[471, 485, 499].forEach((y, g) => {
  mark(groupMarkers[g], 665, y, 4.5, groupColors[g]);
  txt(groups[g], 681, y, { align: 'left', color: groupColors[g] });
});

// ---------- I, J, K: EE vs body mass
const mE = [10, 12, 25, 45];
eeChart(place(111, 675, 218, 840, mE), mE, eeDark12, '#c0c0c0');
eeChart(place(338, 676, 444, 841, mE), mE, eeLight12, null);
eeChart(place(562, 676, 669, 841, mE), mE, eeDark3, '#c0c0c0');
txt('Dark (12 h average) EE (kcal/h)', 68, 757, { size: 13, rot: true });
txt('Light (12 h average) EE (kcal/h)', 296, 757, { size: 13, rot: true });
txt('Dark (3 h average) EE (kcal/h)', 519, 757, { size: 13, rot: true });
txt('Body mass (g)', 164, 876, { size: 13 });
txt('Body mass (g)', 392, 876, { size: 13 });
txt('Body mass (g)', 617, 876, { size: 13 });
const eeLegendMarks = [['circle', 6], ['rect', 6], ['diamond', 4]];
[[114, 133, 142, [799, 812, 826]], [341, 360, 370, [800, 814, 828]], [566, 584, 594, [799, 812, 826]]]
  .forEach(([x1, x2, tx, ys]) => {
    ys.forEach((y, g) => {
      hline(x1, x2, y, fitColors[g]);
      mark(eeLegendMarks[g][0], (x1 + x2) / 2, y, eeLegendMarks[g][1], eeColors[g]);
      txt(groups[g], tx, y, { align: 'left', size: 9 });
    });
  });
bracket(186, 799, 812); bracket(186, 813, 826);
txt('*', 192, 807, { size: 13 });
txt('<i>p</i>=0.056', 188, 820, { size: 8, align: 'left' });
bracket(422, 800, 813); bracket(422, 814, 827);
txt('**', 430, 809, { size: 13 });
txt('*', 431, 823, { size: 13 });
bracket(646, 798, 812); bracket(646, 813, 826);
txt('*', 651, 807, { size: 13 });
txt('*', 652, 822, { size: 13 });

// panel letters
[['A', 6, 10], ['B', 6, 213], ['C', 348, 10], ['D', 233, 213], ['E', 569, 213], ['F', 4, 431],
 ['G', 210, 431], ['H', 409, 431], ['I', 47, 660], ['J', 271, 660], ['K', 494, 660]]
  .forEach(([l, x, y]) => txt(l, x, y, { size: 15, bold: true }));
</script>
</body>
</html>
